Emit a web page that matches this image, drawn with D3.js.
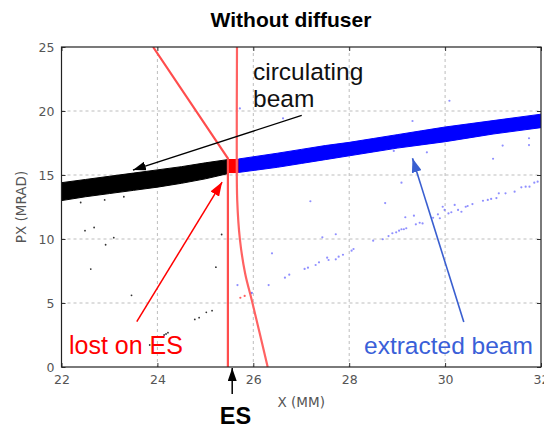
<!DOCTYPE html>
<html><head><meta charset="utf-8">
<script src="https://cdn.jsdelivr.net/npm/d3@7"></script>
<style>body{margin:0;background:#fff}svg{display:block}</style>
</head><body>
<svg id="c" width="544" height="428"></svg>
<script>
// ---- data ----
const xTicks = [22, 24, 26, 28, 30, 32];
const yTicks = [0, 5, 10, 15, 20, 25];
// circulating beam band (black) edges
const circX     = [22, 22.5, 23, 23.5, 24, 24.5, 25, 25.46];
const circUpper = [14.4, 14.65, 14.9, 15.15, 15.4, 15.65, 15.95, 16.2];
const circLower = [13.0, 13.3, 13.55, 13.8, 14.05, 14.35, 14.7, 15.1];
// extracted beam band (blue) edges
const extX     = [25.69, 26.5, 27, 27.5, 28, 28.5, 29, 29.5, 30, 30.5, 31, 31.5, 32];
const extUpper = [16.25, 16.7, 17.0, 17.3, 17.55, 17.85, 18.15, 18.45, 18.75, 19.0, 19.25, 19.5, 19.75];
const extLower = [15.2, 15.6, 15.9, 16.2, 16.5, 16.8, 17.1, 17.35, 17.6, 17.9, 18.2, 18.45, 18.7];
// lost on ES block (red)
const lostX = [25.46, 25.69];
const lostY = [15.15, 16.25];
// ES boundaries
const esInnerX = [23.91, 25.47, 25.47];
const esInnerY = [25, 16.3, 0];
const esOuterX = [25.66, 25.655, 25.665, 25.72, 25.83, 25.97, 26.13, 26.30];
const esOuterY = [25, 17, 13, 10, 7.3, 5.2, 2.7, 0];
// stray particles
const blackPtsX = [22.49, 22.68, 22.92, 23.09, 22.61, 23.46, 25.34, 25.22, 24.78, 24.87, 25.02, 25.14, 24.22, 24.18, 24.14, 23.84, 22.4, 22.9, 23.3];
const blackPtsY = [10.65, 10.9, 9.55, 10.1, 7.65, 5.6, 10.35, 7.8, 3.72, 3.85, 4.27, 4.4, 2.68, 2.58, 2.5, 1.72, 12.85, 13.05, 13.3];
const bluePtsX = [25.96, 26.32, 26.39, 26.66, 26.75, 27.07, 27.14, 27.30, 27.37, 27.44, 27.54, 27.57, 27.72, 27.78, 27.72, 27.87, 28.05, 28.09, 27.19, 28.50, 28.70, 28.82, 28.75,
  28.90, 28.98, 29.04, 29.09, 29.14, 29.19, 29.17, 29.09, 29.35, 29.39, 29.47, 29.53, 29.75, 29.85, 29.89, 29.95, 29.99, 30.07, 30.13, 30.20,
  30.27, 30.34, 30.43, 30.47, 30.57, 30.79, 30.89, 30.96, 31.07, 31.12, 31.26, 31.45, 31.59, 31.68, 31.76, 31.86, 31.93,
  30.09, 29.32, 28.93, 29.62, 31.2, 31.75, 31.75, 31.0, 25.72, 26.62, 25.67, 25.97];
const bluePtsY = [5.76, 6.4, 8.88, 6.98, 7.21, 7.66, 7.76, 7.97, 8.18, 10.13, 8.54, 8.36, 8.41, 8.62, 10.37, 8.77, 9.09, 9.22, 12.95, 9.87, 9.98, 10.23, 12.81,
  10.45, 10.52, 10.65, 10.76, 10.76, 10.84, 11.70, 14.4, 11.82, 11.15, 11.27, 11.22, 11.66, 11.93, 11.62, 12.52, 12.27, 12.0, 12.09, 12.66,
  12.27, 12.13, 12.52, 12.58, 12.73, 12.99, 13.05, 13.13, 13.2, 13.57, 13.57, 13.7, 14.04, 14.09, 14.09, 14.4, 14.48,
  20.8, 19.22, 16.88, 16.77, 17.3, 17.87, 17.34, 16.27, 20.2, 19.43, 6.4, 5.8];
const redPtsX = [25.73, 25.82];
const redPtsY = [5.41, 5.55];
// annotation arrows [x1,y1 (tail), x2,y2 (tip)] in data units
const arrowCirc = [27.01, 19.65, 23.49, 15.39];
const arrowLost = [23.57, 3.54, 25.35, 14.45];
const arrowExt  = [30.39, 3.52, 29.32, 16.3];

// ---- chart ----
const svg = d3.select("#c");
const x = d3.scaleLinear().domain([22, 32]).range([61.5, 541]);
const y = d3.scaleLinear().domain([0, 25]).range([367, 47]);
const [x0, x1] = x.range(), [y0, y1] = [y(25), y(0)];

svg.append("defs").append("clipPath").attr("id", "clip")
  .append("rect").attr("x", x0).attr("y", y0).attr("width", x1 - x0).attr("height", y1 - y0);

const mk = (id, col, w, h) => svg.select("defs").append("marker").attr("id", id)
  .attr("markerUnits", "userSpaceOnUse").attr("markerWidth", w).attr("markerHeight", h)
  .attr("viewBox", `0 0 ${w} ${h}`).attr("refX", w).attr("refY", h / 2).attr("orient", "auto")
  .append("path").attr("d", `M0,0L${w},${h/2}L0,${h}Z`).attr("fill", col);
mk("ab", "#000", 13, 9); mk("ar", "#ff0000", 14, 10); mk("au", "#3a5fd0", 14, 10);

// grid
const grid = svg.append("g").attr("stroke", "#bdbdbd").attr("stroke-dasharray", "3,3").attr("stroke-width", 1);
xTicks.slice(1, -1).forEach(t => grid.append("line").attr("x1", x(t)).attr("x2", x(t)).attr("y1", y0).attr("y2", y1));
yTicks.slice(1, -1).forEach(t => grid.append("line").attr("y1", y(t)).attr("y2", y(t)).attr("x1", x0).attr("x2", x1));

const plot = svg.append("g").attr("clip-path", "url(#clip)");

// stray points
plot.append("g").selectAll("circle").data(blackPtsX).join("circle")
  .attr("cx", d => x(d)).attr("cy", (d, i) => y(blackPtsY[i])).attr("r", 0.9).attr("fill", "#333");
plot.append("g").selectAll("circle").data(bluePtsX).join("circle")
  .attr("cx", d => x(d)).attr("cy", (d, i) => y(bluePtsY[i])).attr("r", 1.1).attr("fill", "#6a6aff").attr("opacity", 0.75);
plot.append("g").selectAll("circle").data(redPtsX).join("circle")
  .attr("cx", d => x(d)).attr("cy", (d, i) => y(redPtsY[i])).attr("r", 1.1).attr("fill", "#ff6060");

// bands
const band = (xs, up, lo) => d3.area().x((d, i) => x(xs[i])).y0((d, i) => y(lo[i])).y1((d, i) => y(up[i]))(xs);
plot.append("path").attr("d", band(circX, circUpper, circLower)).attr("fill", "#000").attr("stroke", "#000").attr("stroke-width", 1);
plot.append("path").attr("d", band(extX, extUpper, extLower)).attr("fill", "#0000ff").attr("stroke", "#0000ff").attr("stroke-width", 1);
plot.append("rect").attr("x", x(lostX[0])).attr("width", x(lostX[1]) - x(lostX[0]))
  .attr("y", y(lostY[1])).attr("height", y(lostY[0]) - y(lostY[1])).attr("fill", "#ff0000");

// ES boundaries
const ln = d3.line().x(d => x(d[0])).y(d => y(d[1]));
plot.append("path").attr("d", ln(esInnerX.map((v, i) => [v, esInnerY[i]])))
  .attr("fill", "none").attr("stroke", "#ff4d4d").attr("stroke-width", 2.2);
plot.append("path").attr("d", ln.curve(d3.curveCatmullRom)(esOuterX.map((v, i) => [v, esOuterY[i]])))
  .attr("fill", "none").attr("stroke", "#ff6262").attr("stroke-width", 2.2);

// axes (inward ticks on all sides)
const fmt = d3.format("d");
const style = g => {
  g.select(".domain").remove();
  g.selectAll(".tick line").attr("stroke", "#333");
  g.selectAll("text").attr("fill", "#555").attr("font-family", "DejaVu Sans").attr("font-size", 12.5);
};
svg.append("g").attr("transform", `translate(0,${y1})`)
  .call(d3.axisBottom(x).tickValues(xTicks).tickFormat(fmt).tickSize(-4).tickPadding(8)).call(style);
svg.append("g").attr("transform", `translate(0,${y0})`)
  .call(d3.axisTop(x).tickValues(xTicks).tickFormat("").tickSize(-4)).call(style);
svg.append("g").attr("transform", `translate(${x0},0)`)
  .call(d3.axisLeft(y).tickValues(yTicks).tickFormat(fmt).tickSize(-4).tickPadding(7)).call(style);
svg.append("g").attr("transform", `translate(${x1},0)`)
  .call(d3.axisRight(y).tickValues(yTicks).tickFormat("").tickSize(-4)).call(style);

svg.append("rect").attr("x", x0).attr("y", y0).attr("width", x1 - x0).attr("height", y1 - y0)
  .attr("fill", "none").attr("stroke", "#222").attr("stroke-width", 1.2);

// axis labels
svg.append("text").attr("x", (x0 + x1) / 2).attr("y", 406.5).attr("text-anchor", "middle")
  .attr("font-family", "DejaVu Sans").attr("font-size", 13.5).attr("fill", "#555").text("X (MM)");
svg.append("text").attr("transform", `translate(25.5,${(y0 + y1) / 2}) rotate(-90)`).attr("text-anchor", "middle")
  .attr("font-family", "DejaVu Sans").attr("font-size", 13.5).attr("fill", "#555").text("PX (MRAD)");

// title
svg.append("text").attr("x", 291).attr("y", 27).attr("text-anchor", "middle")
  .attr("font-family", "Liberation Sans, Arial, sans-serif").attr("font-weight", "bold").attr("font-size", 21).text("Without diffuser");

// arrows
const arrow = (a, col, w, m) => svg.append("line")
  .attr("x1", x(a[0])).attr("y1", y(a[1])).attr("x2", x(a[2])).attr("y2", y(a[3]))
  .attr("stroke", col).attr("stroke-width", w).attr("marker-end", `url(#${m})`);
arrow(arrowCirc, "#000", 1.3, "ab");
arrow(arrowLost, "#ff0000", 1.5, "ar");
arrow(arrowExt, "#3a5fd0", 1.6, "au");
svg.append("line").attr("x1", x(25.56)).attr("x2", x(25.56)).attr("y1", 394).attr("y2", y1 + 1)
  .attr("stroke", "#000").attr("stroke-width", 1.5).attr("marker-end", "url(#ab)");

// annotations
const ann = (t, px, py, col, opts = {}) => svg.append("text").attr("x", px).attr("y", py)
  .attr("font-family", "Liberation Sans, Arial, sans-serif").attr("font-size", opts.size || 24.5)
  .attr("font-weight", opts.bold ? "bold" : "normal").attr("fill", col)
  .attr("text-anchor", opts.anchor || "start").text(t);
ann("circulating", 253, 79.5, "#111");
ann("beam", 253, 106.5, "#111");
ann("lost on ES", 69, 353.5, "#ff0000", {size: 25});
ann("extracted beam", 364, 353.5, "#3a5fd8", {size: 24.5});
ann("ES", 235.5, 424, "#000", {bold: true, size: 23.5, anchor: "middle"});
</script>
</body></html>
